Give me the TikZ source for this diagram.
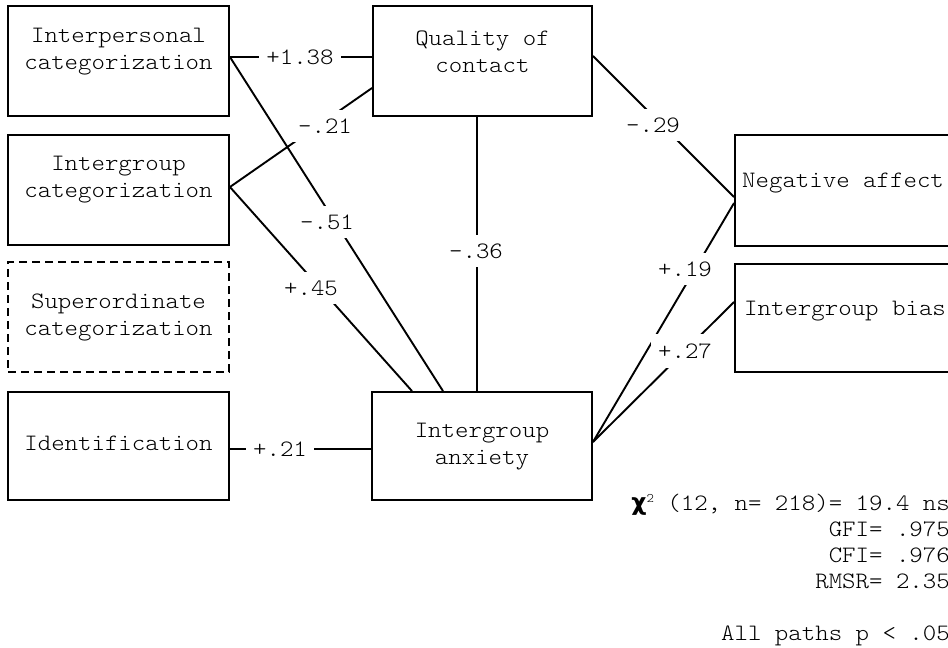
\documentclass[tikz,border=0pt]{standalone}
\usepackage{fontspec}
\newfontfamily\chifont{DejaVu Sans}
\newfontfamily\cour{lmmonolt10-regular.otf}[FakeStretch=1.09]
\begin{document}
\begin{tikzpicture}[x=1pt,y=-1pt]
\tikzset{
  mono/.style={font=\cour\fontsize{23.5}{27}\selectfont},
  box/.style={draw, line width=1.9pt, inner sep=0pt, rectangle},
  txt/.style={mono, align=center, inner sep=0pt},
  lbl/.style={mono, fill=white, inner xsep=7pt, inner ysep=9pt},
  stat/.style={mono, inner sep=0pt, anchor=base east},
  conn/.style={line width=1.9pt},
}
\useasboundingbox (0,0) rectangle (948,648);
\fill[white] (0,0) rectangle (948,648);
\clip (0,0) rectangle (948,648);

% boxes
\node[box, minimum width=221pt, minimum height=110pt] (A) at (118.5,61) {};
\node[box, minimum width=221pt, minimum height=110pt] (B) at (118.5,190) {};
\node[box, dash pattern=on 8pt off 5pt, minimum width=221pt, minimum height=110pt] (C) at (118.5,317) {};
\node[box, minimum width=221pt, minimum height=108pt] (D) at (118.5,446) {};
\node[box, minimum width=219pt, minimum height=110pt] (Q) at (482.5,61) {};
\node[box, minimum width=220pt, minimum height=108pt] (X) at (482,446) {};
\node[box, minimum width=225pt, minimum height=111pt] (N) at (847.5,190.5) {};
\node[box, minimum width=225pt, minimum height=108pt] (G) at (847.5,318) {};

% box texts
\node[txt] (tA) at ([yshift=9.5pt]A.center) {Interpersonal\\categorization};
\node[txt] (tB) at ([yshift=10pt]B.center) {Intergroup\\categorization};
\node[txt] (tC) at (C.center) {Superordinate\\categorization};
\node[txt] (tD) at ([yshift=3pt]D.center) {Identification};
\node[txt] (tQ) at ([yshift=9.5pt]Q.center) {Quality of\\contact};
\node[txt] (tX) at ([yshift=-1pt]X.center) {Intergroup\\anxiety};
\node[txt, anchor=west] (tN) at (742,183) {Negative affect};
\node[txt, anchor=west] (tG) at (744,311) {Intergroup bias};

% connectors
\draw[conn] ([yshift=4pt]A.east) -- ([yshift=4pt]Q.west);
\draw[conn] ([yshift=4pt]A.east) -- ([xshift=-39pt]X.north);
\draw[conn] ([yshift=3pt]B.east) -- ([yshift=-27pt]Q.west);
\draw[conn] ([yshift=3pt]B.east) -- ([xshift=-70pt]X.north);
\draw[conn] ([xshift=-5.5pt]Q.south) -- ([xshift=-5pt]X.north);
\draw[conn] ([yshift=5pt]Q.east) -- ([yshift=-6.5pt]N.west);
\draw[conn] ([yshift=4pt]X.east) -- ([yshift=-12.5pt]N.west);
\draw[conn] ([yshift=4pt]X.east) -- ([yshift=16pt]G.west);
\draw[conn] ([yshift=-3pt]D.east) -- ([yshift=-3pt]X.west);

% path labels
\node[lbl] (l138) at (300,57) {+1.38};
\node[lbl] (l21) at (325,126) {-.21};
\node[lbl] (l51) at (327,222) {-.51};
\node[lbl] (l45) at (311,288) {+.45};
\node[lbl] (l36) at (476,251) {-.36};
\node[lbl] (l29) at (653,125) {-.29};
\node[lbl] (l19) at (685,269) {+.19};
\node[lbl] (l27) at (685,351) {+.27};
\node[lbl] (lid) at (280,449) {+.21};

% fit statistics
\node[stat] (s1) at (950,510) {{\chifont\bfseries χ}{\fontsize{13}{13}\selectfont\raisebox{8pt}{2}} (12, n= 218)= 19.4 ns};
\node[stat] (s2) at (950,536) {GFI= .975};
\node[stat] (s3) at (950,562) {CFI= .976};
\node[stat] (s4) at (950,588) {RMSR= 2.35};
\node[stat] (s5) at (950,640) {All paths p < .05};
\end{tikzpicture}
\end{document}
